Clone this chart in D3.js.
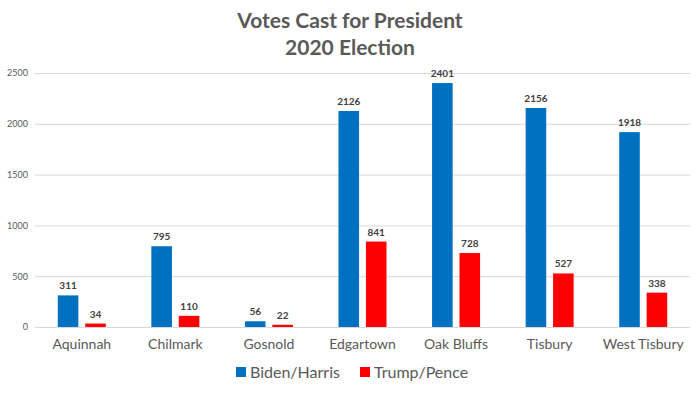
<!DOCTYPE html>
<html>
<head>
<meta charset="utf-8">
<script src="https://cdn.jsdelivr.net/npm/d3@7"></script>
<style>
  body { margin: 0; background: #fff; }
  text { font-family: Lato, "Open Sans", sans-serif; }
</style>
</head>
<body>
<div id="chart"></div>
<script>
// data
var towns = ["Aquinnah", "Chilmark", "Gosnold", "Edgartown", "Oak Bluffs", "Tisbury", "West Tisbury"];
var biden = [311, 795, 56, 2126, 2401, 2156, 1918];
var trump = [34, 110, 22, 841, 728, 527, 338];
var seriesNames = ["Biden/Harris", "Trump/Pence"];
var yTicks = [0, 500, 1000, 1500, 2000, 2500];

var width = 700, height = 394;
var colors = ["#0070c0", "#ff0000"];

var svg = d3.select("#chart")
    .append("svg")
    .attr("width", width)
    .attr("height", height);

// title
svg.append("text")
    .attr("x", 350).attr("y", 28)
    .attr("text-anchor", "middle")
    .style("font-size", "21px").style("font-weight", "bold")
    .style("fill", "#595959")
    .text("Votes Cast for President");
svg.append("text")
    .attr("x", 350).attr("y", 55)
    .attr("text-anchor", "middle")
    .style("font-size", "21px").style("font-weight", "bold")
    .style("fill", "#595959")
    .text("2020 Election");

var x = d3.scaleBand()
    .domain(towns)
    .range([35, 690]);

var x1 = d3.scaleBand()
    .domain([0, 1])
    .range([x.bandwidth() / 2 - 24, x.bandwidth() / 2 + 24])
    .paddingInner(0.25);

var y = d3.scaleLinear()
    .domain([0, 2500])
    .range([327, 73]);

// gridlines
svg.append("g").selectAll("line")
    .data(yTicks)
    .enter().append("line")
    .attr("x1", 35).attr("x2", 690)
    .attr("y1", function(d){ return y(d) + 0.5; })
    .attr("y2", function(d){ return y(d) + 0.5; })
    .style("stroke", "#d9d9d9")
    .style("stroke-width", 1);

// y axis labels
var yAxis = d3.axisLeft(y).tickValues(yTicks).tickFormat(d3.format("d")).tickSize(0).tickPadding(7);
var gy = svg.append("g").attr("transform", "translate(35,0)").call(yAxis);
gy.select(".domain").remove();
gy.selectAll("text")
    .style("font-size", "9px")
    .style("fill", "#595959")
    .style("font-family", "Lato, sans-serif");

// x axis labels
var xAxis = d3.axisBottom(x).tickSize(0).tickPadding(12);
var gx = svg.append("g").attr("transform", "translate(0,327)").call(xAxis);
gx.select(".domain").remove();
gx.selectAll("text")
    .style("font-size", "14px")
    .style("fill", "#595959")
    .style("font-family", "Lato, sans-serif");

var rows = towns.map(function(t, i){ return {town: t, vals: [biden[i], trump[i]]}; });

var groups = svg.append("g").selectAll("g")
    .data(rows)
    .enter().append("g")
    .attr("transform", function(d){ return "translate(" + x(d.town) + ",0)"; });

groups.selectAll("rect")
    .data(function(d){ return d.vals; })
    .enter().append("rect")
    .attr("x", function(d, i){ return x1(i); })
    .attr("width", x1.bandwidth())
    .attr("y", function(d){ return y(d); })
    .attr("height", function(d){ return y(0) - y(d); })
    .style("fill", function(d, i){ return colors[i]; });

groups.selectAll("text.val")
    .data(function(d){ return d.vals; })
    .enter().append("text")
    .attr("class", "val")
    .attr("x", function(d, i){ return x1(i) + x1.bandwidth() / 2; })
    .attr("y", function(d){ return y(d) - 6; })
    .attr("text-anchor", "middle")
    .style("font-size", "10px").style("font-weight", "bold")
    .style("fill", "#404040")
    .text(function(d){ return d; });

// legend
var legend = svg.append("g");
var legX = [236, 360];
seriesNames.forEach(function(name, i){
    legend.append("rect")
        .attr("x", legX[i]).attr("y", 367)
        .attr("width", 10).attr("height", 10)
        .style("fill", colors[i]);
    legend.append("text")
        .attr("x", legX[i] + 14).attr("y", 378)
        .style("font-size", "16px")
        .style("fill", "#595959")
        .text(name);
});
</script>
</body>
</html>
